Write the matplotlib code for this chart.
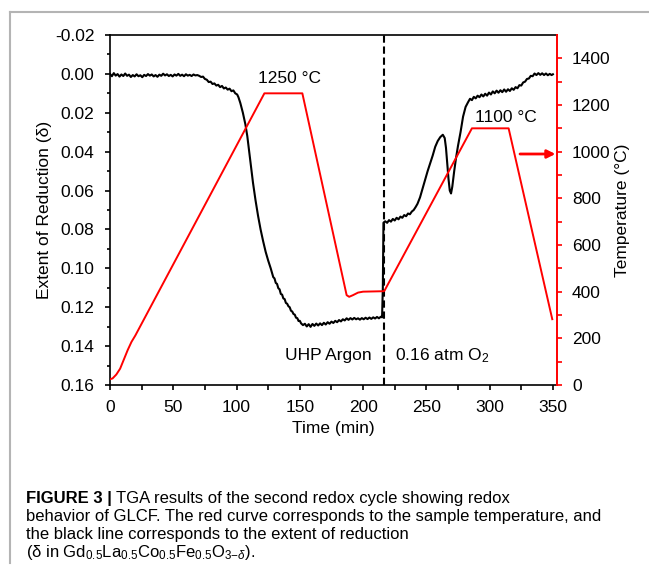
import numpy as np
import matplotlib
matplotlib.use("Agg")
import matplotlib.pyplot as plt
from matplotlib.lines import Line2D

plt.rcParams['font.family'] = ['Liberation Sans', 'DejaVu Sans']
plt.rcParams['mathtext.fontset'] = 'custom'
plt.rcParams['mathtext.rm'] = 'Liberation Sans'
plt.rcParams['mathtext.it'] = 'Liberation Sans:italic'

# extent of reduction (black), (time, delta)
delta_pts = [
    (0, 0.0000), (1.5, 0.0012), (3, -0.0004), (4.5, 0.0009), (6, 0.0001), (7.5, 0.0014),
    (9, 0.0003), (10.5, 0.0011), (12, -0.0002), (13.5, 0.0010), (15, 0.0004), (16.5, 0.0016),
    (18, 0.0006), (19.5, 0.0013), (21, 0.0002), (22.5, 0.0012), (24, 0.0007), (25.5, 0.0017),
    (27, 0.0005), (28.5, 0.0011), (30, 0.0001), (31.5, 0.0009), (33, 0.0003), (34.5, 0.0013),
    (36, 0.0006), (37.5, 0.0015), (39, 0.0004), (40.5, 0.0010), (42, -0.0001), (43.5, 0.0008),
    (45, 0.0002), (46.5, 0.0011), (48, 0.0005), (49.5, 0.0013), (51, 0.0003), (52.5, 0.0009),
    (54, 0.0000), (55.5, 0.0010), (57, 0.0004), (58.5, 0.0012), (60, 0.0002), (61.5, 0.0009),
    (63, 0.0005), (64.5, 0.0011), (66, 0.0003), (67.5, 0.0008), (69, 0.0006), (70.5, 0.0010),
    (72, 0.0016), (73.5, 0.0014), (75, 0.0026), (76.5, 0.0030), (78, 0.0042), (79.5, 0.0040),
    (81, 0.0052), (82.5, 0.0049), (84, 0.0060), (85.5, 0.0056), (87, 0.0068), (88.5, 0.0062),
    (90, 0.0075), (91.5, 0.0070), (93, 0.0081), (94.5, 0.0076), (96, 0.0089), (97.5, 0.0085),
    (99, 0.0100), (100.5, 0.0106), (101.5, 0.0120), (103, 0.0150), (105, 0.0200),
    (107, 0.0260), (108.5, 0.0320), (110, 0.0400), (111.5, 0.0480), (113, 0.0560),
    (115, 0.0650), (117, 0.0730), (119, 0.0800), (121, 0.0860), (123, 0.0915), (125, 0.0960),
    (127, 0.1000), (129, 0.1045), (130, 0.1052), (131, 0.1075), (132, 0.1080), (133, 0.1102),
    (134, 0.1108), (135, 0.1132), (136, 0.1135), (137, 0.1155), (138, 0.1158), (139, 0.1178),
    (140, 0.1182), (141, 0.1195), (142, 0.1200), (143, 0.1218), (144, 0.1222), (145, 0.1235),
    (146, 0.1238), (147, 0.1254), (148, 0.1256), (149, 0.1271), (150, 0.1270), (151, 0.1283),
    (152.5, 0.1292), (154, 0.1285), (155.5, 0.1299), (157, 0.1287), (158.5, 0.1301),
    (160, 0.1286), (161.5, 0.1296), (163, 0.1284), (164.5, 0.1294), (166, 0.1283),
    (167.5, 0.1292), (169, 0.1280), (170.5, 0.1289), (172, 0.1277), (173.5, 0.1285),
    (175, 0.1274), (176.5, 0.1281), (178, 0.1270), (179.5, 0.1277), (181, 0.1266),
    (182.5, 0.1273), (184, 0.1262), (185.5, 0.1268), (187, 0.1257), (188.5, 0.1265),
    (190, 0.1256), (191.5, 0.1263), (193, 0.1255), (194.5, 0.1262), (196, 0.1257),
    (197.5, 0.1264), (199, 0.1256), (200.5, 0.1262), (202, 0.1254), (203.5, 0.1261),
    (205, 0.1253), (206.5, 0.1260), (208, 0.1252), (209.5, 0.1258), (211, 0.1250),
    (212.5, 0.1257), (214, 0.1249), (215, 0.1252), (215.6, 0.1100), (216.1, 0.0765),
    (217.5, 0.0758), (219, 0.0766), (220.5, 0.0752), (222, 0.0760), (223.5, 0.0746),
    (225, 0.0754), (226.5, 0.0740), (228, 0.0748), (229.5, 0.0734), (231, 0.0740),
    (232.5, 0.0726), (234, 0.0732), (235.5, 0.0718), (237, 0.0722), (238.5, 0.0708),
    (240, 0.0700), (241.5, 0.0685), (243, 0.0668), (245, 0.0635), (247, 0.0590),
    (249, 0.0545), (251, 0.0500), (253, 0.0460), (255, 0.0420), (257, 0.0375),
    (259, 0.0345), (261, 0.0325), (263, 0.0313), (264.5, 0.0330), (265.5, 0.0380),
    (266.5, 0.0460), (267.5, 0.0540), (268.5, 0.0600), (269.5, 0.0615), (270.5, 0.0580),
    (272, 0.0500), (273.5, 0.0430), (275, 0.0370), (277, 0.0300), (279, 0.0220),
    (281, 0.0170), (283, 0.0145), (284.5, 0.0128), (286, 0.0135), (287.5, 0.0118),
    (289, 0.0126), (290.5, 0.0112), (292, 0.0120), (293.5, 0.0106), (295, 0.0116),
    (296.5, 0.0102), (298, 0.0112), (299.5, 0.0096), (301, 0.0106), (302.5, 0.0090),
    (304, 0.0100), (305.5, 0.0086), (307, 0.0097), (308.5, 0.0084), (310, 0.0094),
    (311.5, 0.0080), (313, 0.0092), (314.5, 0.0079), (316, 0.0088), (317.5, 0.0074),
    (319, 0.0082), (320.5, 0.0068), (322, 0.0074), (323.5, 0.0058), (325, 0.0060),
    (326.5, 0.0044), (328, 0.0040), (329.5, 0.0026), (331, 0.0024), (332.5, 0.0010),
    (334, 0.0012), (335.5, -0.0002), (337, 0.0006), (338.5, -0.0004), (340, 0.0005),
    (341.5, -0.0003), (343, 0.0006), (344.5, -0.0002), (346, 0.0007), (347.5, 0.0000),
    (349, 0.0006), (350, 0.0002),
]
t_delta = [p[0] for p in delta_pts]
delta = [p[1] for p in delta_pts]

# sample temperature (red)
t_temp = [0, 2, 5, 8, 11, 14, 17, 20, 122, 152, 187, 189, 192, 196, 200, 216.5, 217,
          286, 315, 349.5]
temp = [25, 28, 45, 70, 110, 150, 185, 212, 1250, 1250, 385, 378, 385, 396, 400, 402,
        405, 1100, 1100, 282]

t_switch = 216.5

W, H = 649, 573
FS = 12.5
fig = plt.figure(figsize=(W / 100, H / 100), dpi=100)
ax = fig.add_axes([110 / W, 1 - 385 / H, (556.7 - 110) / W, 350 / H])
ax2 = ax.twinx()

ax.plot(t_delta, delta, color='black', lw=1.5)
ax.axvline(t_switch, color='black', lw=1.5, ls=(0, (3.5, 1.8)))
ax2.plot(t_temp, temp, color='red', lw=1.4)

ax.set_xlim(0, 353)
ax.set_ylim(0.16, -0.02)
ax.set_yticks(np.arange(-0.02, 0.1601, 0.02))
ax.set_yticklabels(['-0.02'] + ['%.2f' % v for v in np.arange(0, 0.1601, 0.02)])
ax.set_yticks(np.arange(-0.01, 0.16, 0.02), minor=True)
ax.set_xticks(np.arange(0, 351, 50))
ax.set_xticks(np.arange(25, 351, 50), minor=True)
ax2.set_ylim(0, 1500)
ax2.set_yticks(np.arange(0, 1401, 200))
ax2.set_yticks(np.arange(100, 1401, 200), minor=True)

for a in (ax, ax2):
    a.tick_params(which='both', direction='out', labelsize=FS, width=1.2, pad=7.5)
    a.tick_params(which='major', length=3.6)
    a.tick_params(which='minor', length=2.5)
ax2.tick_params(axis='y', which='both', colors='red', labelcolor='black', length=3.6)
ax.tick_params(axis='x', which='minor', length=3.6)

ax.spines['right'].set_visible(False)
ax2.spines['left'].set_visible(False)
ax2.spines['top'].set_visible(False)
ax2.spines['bottom'].set_visible(False)
ax2.spines['right'].set_color('red')
for s in ('left', 'bottom', 'top'):
    ax.spines[s].set_linewidth(1.2)
ax2.spines['right'].set_linewidth(1.4)

ax.set_xlabel('Time (min)', fontsize=FS, labelpad=4)
ax.set_ylabel('Extent of Reduction (δ)', fontsize=FS, labelpad=2)
ax2.set_ylabel('Temperature (°C)', fontsize=FS, labelpad=3)

ax.text(142, 0.0026, '1250 °C', ha='center', va='center', fontsize=FS)
ax.text(313, 0.0222, '1100 °C', ha='center', va='center', fontsize=FS)
ax.text(207, 0.145, 'UHP Argon', ha='right', va='center', fontsize=FS)
ax.text(225, 0.145, '0.16 atm O$_2$', ha='left', va='center', fontsize=FS)

ax2.annotate('', xy=(352, 990), xytext=(324, 990),
             arrowprops=dict(arrowstyle='-|>', color='red', lw=2,
                             mutation_scale=12, shrinkA=0, shrinkB=0))

# gray frame around the figure panel
fig.add_artist(Line2D([10 / W, 1], [1 - 12 / H, 1 - 12 / H], color='#b4b4b4', lw=1.5))
fig.add_artist(Line2D([10 / W, 10 / W], [1 - 12 / H, 1 - 563 / H], color='#b4b4b4', lw=1.5))

# caption
x0 = 26 / W
cs = 12
r = fig.canvas.get_renderer()
b = fig.text(x0, 1 - 503 / H, 'FIGURE 3 | ', fontsize=cs, fontweight='bold', va='baseline')
bw = b.get_window_extent(r).width
fig.text(x0 + bw / W, 1 - 503 / H, 'TGA results of the second redox cycle showing redox',
         fontsize=cs, va='baseline')
fig.text(x0, 1 - 521 / H,
         'behavior of GLCF. The red curve corresponds to the sample temperature, and',
         fontsize=cs, va='baseline')
fig.text(x0, 1 - 539 / H, 'the black line corresponds to the extent of reduction',
         fontsize=cs, va='baseline')
fig.text(x0, 1 - 557 / H,
         r'(δ in Gd$_{0.5}$La$_{0.5}$Co$_{0.5}$Fe$_{0.5}$O$_{3\mathrm{-}δ}$).',
         fontsize=cs, va='baseline')

fig.savefig('out.png', dpi=100)
